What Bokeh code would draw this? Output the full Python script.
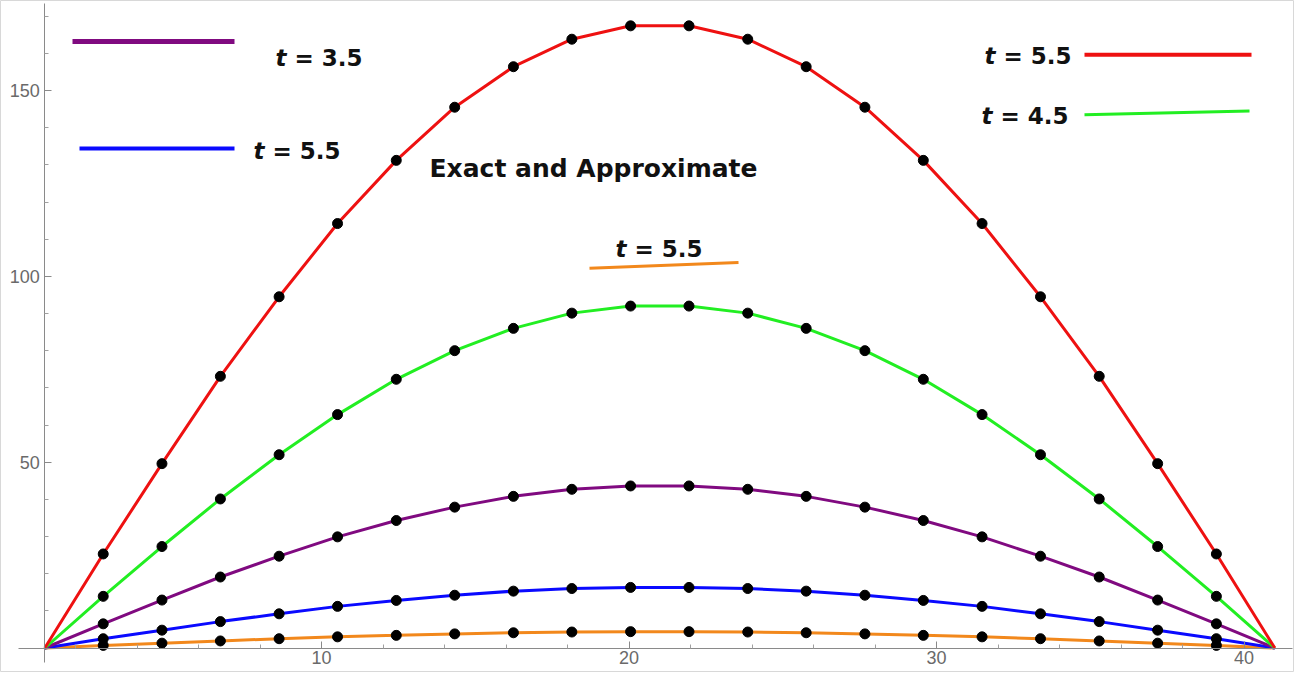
from bokeh.plotting import figure
from bokeh.models import Range1d, FixedTicker, Label
from bokeh.embed import file_html
from bokeh.resources import INLINE

# ---------------- data ----------------
x_start_end = [1, 41]
x_dots = [2.90, 4.81, 6.71, 8.62, 10.52, 12.43, 14.33, 16.24, 18.14, 20.05,
          21.95, 23.86, 25.76, 27.67, 29.57, 31.48, 33.38, 35.29, 37.19, 39.10]

red_t55 = [25.3, 49.6, 73.1, 94.5, 114.2, 131.2, 145.5, 156.4, 163.8, 167.4,
           167.4, 163.8, 156.4, 145.5, 131.2, 114.2, 94.5, 73.1, 49.6, 25.3]
green_t45 = [13.9, 27.3, 40.1, 52.0, 62.8, 72.3, 80.0, 86.0, 90.1, 92.0,
             92.0, 90.1, 86.0, 80.0, 72.3, 62.8, 52.0, 40.1, 27.3, 13.9]
purple_t35 = [6.5, 12.9, 19.1, 24.7, 29.9, 34.3, 37.9, 40.8, 42.7, 43.6,
              43.6, 42.7, 40.8, 37.9, 34.3, 29.9, 24.7, 19.1, 12.9, 6.5]
blue_t55 = [2.5, 4.8, 7.1, 9.2, 11.2, 12.8, 14.2, 15.3, 16.0, 16.3,
            16.3, 16.0, 15.3, 14.2, 12.8, 11.2, 9.2, 7.1, 4.8, 2.5]
orange_t55 = [0.7, 1.3, 1.9, 2.5, 3.0, 3.4, 3.8, 4.1, 4.3, 4.4,
              4.4, 4.3, 4.1, 3.8, 3.4, 3.0, 2.5, 1.9, 1.3, 0.7]

x_major_ticks = [10, 20, 30, 40]
x_minor_ticks = [2, 4, 6, 8, 12, 14, 16, 18, 22, 24, 26, 28, 32, 34, 36, 38]
y_major_ticks = [50, 100, 150]
y_minor_ticks = [10, 20, 30, 40, 60, 70, 80, 90, 110, 120, 130, 140, 160, 170]

title_text = "Exact and Approximate"
labels = ["= 3.5", "= 5.5", "= 5.5", "= 4.5", "= 5.5"]

RED = "#ee1111"
GREEN = "#22ee22"
PURPLE = "#800a80"
BLUE = "#0a0aff"
ORANGE = "#f2881c"

# ---------------- layout helpers (reference pixel -> data) ----------------
W, H = 1294, 672
SX = 30.75          # px per x unit
Y0_PAGE = 655.5     # page pixel of y = 0
SY = (Y0_PAGE - 98.0) / 150.0   # px per y unit
X_AT_PAGE8 = 1 - (52.3 - 8) / SX

def dx(px):
    return X_AT_PAGE8 + (px - 8) / SX

def dy(py):
    return (Y0_PAGE - py) / SY

x_range = Range1d(dx(8), dx(8 + W))
y_range = Range1d(dy(8 + H), dy(8))

p = figure(width=W, height=H, output_backend="svg", toolbar_location=None,
           x_range=x_range, y_range=y_range, min_border=0, title=None)
p.background_fill_color = "white"
p.border_fill_color = "white"
p.outline_line_color = "#d8d8d8"
p.xgrid.visible = False
p.ygrid.visible = False

# axes crossing at (1, 0)
for ax in (p.xaxis[0], p.yaxis[0]):
    ax.axis_line_color = "#8a8a8a"
    ax.axis_line_width = 1
    ax.major_tick_line_color = "#8a8a8a"
    ax.minor_tick_line_color = "#a0a0a0"
    ax.major_tick_in = 7
    ax.major_tick_out = 0
    ax.minor_tick_in = 4
    ax.minor_tick_out = 0
    ax.major_label_text_font = "Liberation Sans"
    ax.major_label_text_font_size = "18px"
    ax.major_label_text_color = "#6a6a6a"

xa = p.xaxis[0]
xa.fixed_location = 0
xa.bounds = (dx(26), dx(1300))
xa.ticker = FixedTicker(ticks=x_major_ticks, minor_ticks=x_minor_ticks)
xa.major_label_standoff = 3

ya = p.yaxis[0]
ya.fixed_location = 1
ya.bounds = (dy(670), dy(11))
ya.ticker = FixedTicker(ticks=y_major_ticks, minor_ticks=y_minor_ticks)
ya.major_label_standoff = 5

# ---------------- curves + points ----------------
series = [(orange_t55, ORANGE), (blue_t55, BLUE), (purple_t35, PURPLE),
          (green_t45, GREEN), (red_t55, RED)]
x_line = [x_start_end[0]] + x_dots + [x_start_end[1]]
for ys, col in series:
    p.line(x_line, [0] + ys + [0], line_color=col, line_width=3)
for ys, col in series:
    p.scatter(x_dots, ys, size=10, fill_color="black", line_color="black")

# ---------------- legend-like annotations ----------------
p.line([dx(80), dx(242)], [dy(49), dy(49)], line_color=PURPLE, line_width=5)
p.line([dx(87), dx(242)], [dy(156), dy(156)], line_color=BLUE, line_width=4)
p.line([dx(1092), dx(1259)], [dy(62.3), dy(62.3)], line_color=RED, line_width=4)
p.line([dx(1092), dx(1257)], [dy(122.3), dy(118.5)], line_color=GREEN, line_width=3)
p.line([dx(597), dx(746)], [dy(275.7), dy(270)], line_color=ORANGE, line_width=3)

FONT = "DejaVu Sans"
FS = "23px"

def tlabel(px, py, rest):
    p.add_layout(Label(x=dx(px), y=dy(py), text="t", text_font=FONT,
                       text_font_style="bold italic", text_font_size=FS,
                       text_align="left", text_baseline="middle", text_color="#111111"))
    p.add_layout(Label(x=dx(px + 19), y=dy(py), text=rest, text_font=FONT,
                       text_font_style="bold", text_font_size=FS,
                       text_align="left", text_baseline="middle", text_color="#111111"))

tlabel(283, 65, labels[0])
tlabel(261, 158, labels[1])
tlabel(992, 63, labels[2])
tlabel(989, 123, labels[3])
tlabel(623, 256, labels[4])

p.add_layout(Label(x=dx(437), y=dy(176), text=title_text, text_font=FONT,
                   text_font_style="bold", text_font_size="25px",
                   text_align="left", text_baseline="middle", text_color="#111111"))

open("out.html", "w").write(file_html(p, INLINE))
